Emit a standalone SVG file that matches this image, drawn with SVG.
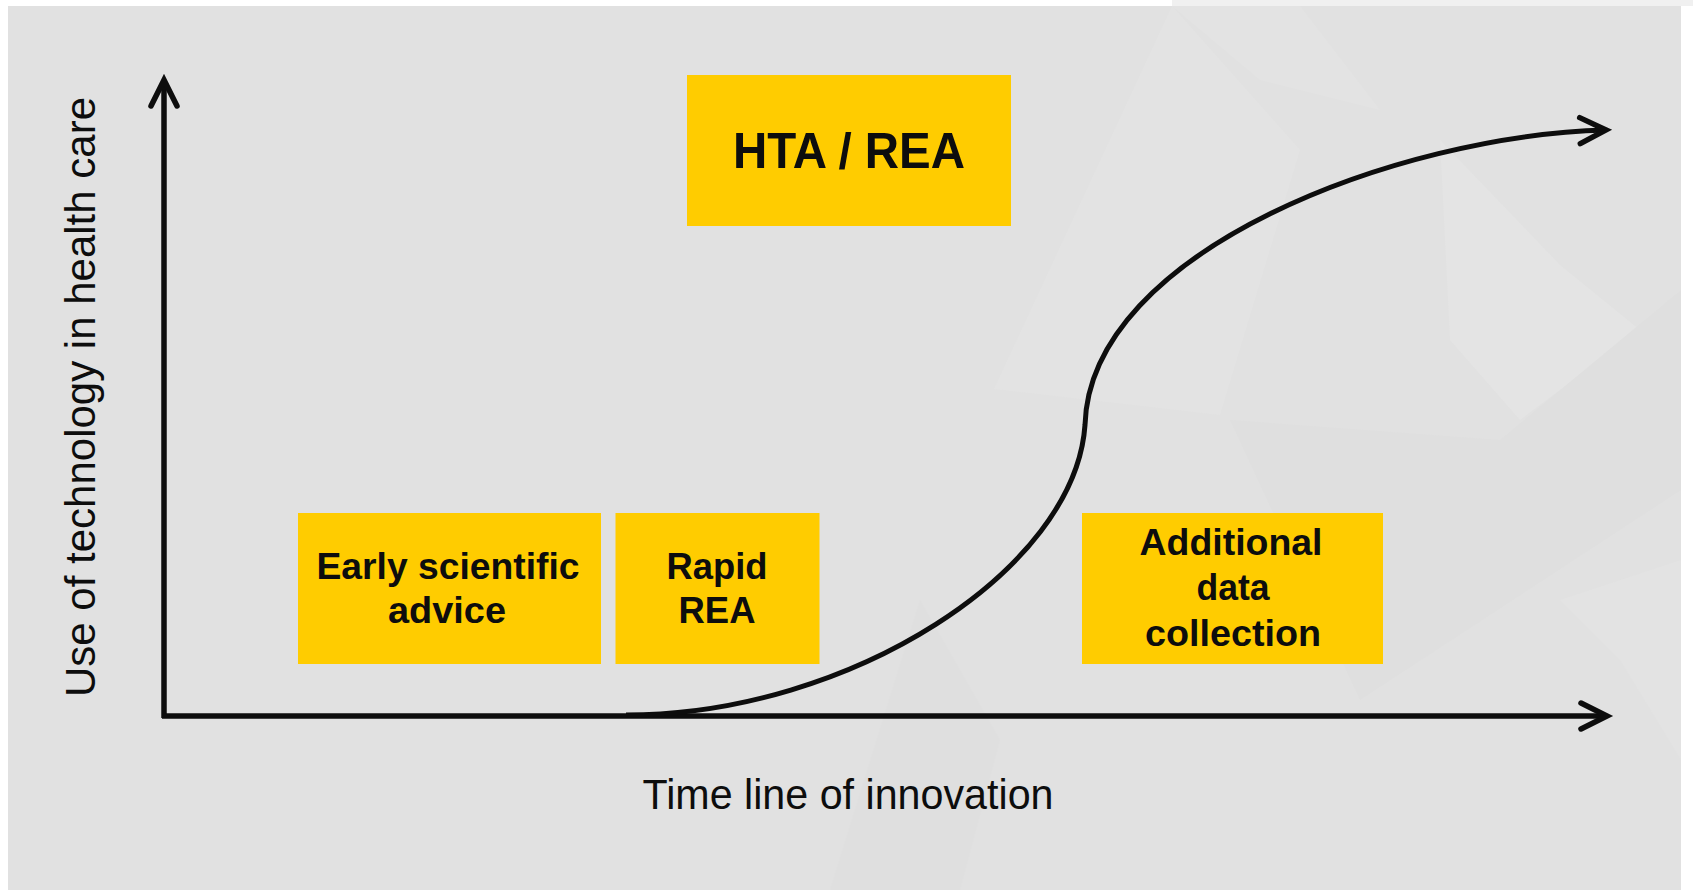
<svg xmlns="http://www.w3.org/2000/svg" width="1693" height="890" viewBox="0 0 1693 890">
  <style>
    .box { fill: #FFCC00; }
    .lbl { font-family: "Liberation Sans", Arial, sans-serif; font-weight: bold; fill: #0d0d0d; text-anchor: middle; }
    .axis-lbl { font-family: "Liberation Sans", Arial, sans-serif; fill: #0d0d0d; text-anchor: middle; }
    .line { fill: none; stroke: #0d0d0d; stroke-width: 5.5; }
    .curve { fill: none; stroke: #0d0d0d; stroke-width: 5; }
    .bgshape { stroke: none; }
  </style>
  <defs>
    <marker id="chev" markerUnits="userSpaceOnUse" viewBox="-32 -18 38 36" refX="0" refY="0" markerWidth="38" markerHeight="36" orient="auto" overflow="visible">
      <path d="M -26 -13 L 0 0 L -26 13" fill="none" stroke="#0d0d0d" stroke-width="5.5" stroke-linecap="round" stroke-linejoin="miter"/>
    </marker>
  </defs>

  <!-- background -->
  <rect x="0" y="0" width="1693" height="890" fill="#ffffff"/>
  <rect x="1172" y="0" width="521" height="6" fill="#f0f0f0"/>
  <rect x="8" y="6" width="1673" height="884" fill="#e1e1e1"/>
  <g id="background-shapes">
    <polygon class="bgshape" points="1172,6 1300,6 1380,110 1260,80" fill="#e3e3e3"/>
    <polygon class="bgshape" points="1172,6 994,389 1220,415 1300,150" fill="#e3e3e3"/>
    <polygon class="bgshape" points="1440,140 1560,265 1640,330 1520,420 1450,340" fill="#e4e4e4"/>
    <polygon class="bgshape" points="1230,420 1500,440 1681,290 1681,490 1360,700" fill="#dfdfdf"/>
    <polygon class="bgshape" points="1560,600 1681,560 1681,760 1620,660" fill="#e3e3e3"/>
    <polygon class="bgshape" points="830,890 920,600 1000,740 960,890" fill="#dfdfdf"/>
  </g>

  <!-- nodes -->
  <g id="node-hta">
    <rect class="box" x="687" y="75" width="324" height="151"/>
    <text class="lbl" x="849" y="168" font-size="50" textLength="232" lengthAdjust="spacingAndGlyphs">HTA / REA</text>
  </g>
  <g id="node-early">
    <rect class="box" x="298" y="513" width="303" height="151"/>
    <text class="lbl" x="448" y="579" font-size="37" textLength="263" lengthAdjust="spacingAndGlyphs">Early scientific</text>
    <text class="lbl" x="447" y="623" font-size="37" textLength="118" lengthAdjust="spacingAndGlyphs">advice</text>
  </g>
  <g id="node-rapid">
    <rect class="box" x="615.5" y="513" width="204" height="151"/>
    <text class="lbl" x="717" y="579" font-size="37" textLength="101" lengthAdjust="spacingAndGlyphs">Rapid</text>
    <text class="lbl" x="717" y="623" font-size="37" textLength="77" lengthAdjust="spacingAndGlyphs">REA</text>
  </g>
  <g id="node-additional">
    <rect class="box" x="1082" y="513" width="301" height="151"/>
    <text class="lbl" x="1231" y="555" font-size="36" textLength="183" lengthAdjust="spacingAndGlyphs">Additional</text>
    <text class="lbl" x="1233" y="600" font-size="36" textLength="73" lengthAdjust="spacingAndGlyphs">data</text>
    <text class="lbl" x="1233" y="646" font-size="36" textLength="176" lengthAdjust="spacingAndGlyphs">collection</text>
  </g>

  <!-- connectors / axes -->
  <g id="connectors">
    <line class="line" x1="164" y1="718" x2="164" y2="80" marker-end="url(#chev)"/>
    <line class="line" x1="162" y1="716" x2="1607" y2="716" marker-end="url(#chev)"/>
    <path class="curve" d="M 626 715 C 850 715, 1075 570, 1085 425 C 1090 250, 1400 135, 1606 130" marker-end="url(#chev)"/>
  </g>

  <!-- axis labels -->
  <g id="axis-labels">
    <text class="axis-lbl" x="848" y="809" font-size="42" textLength="411" lengthAdjust="spacingAndGlyphs">Time line of innovation</text>
    <text class="axis-lbl" transform="translate(95,397) rotate(-90)" x="0" y="0" font-size="42" textLength="600" lengthAdjust="spacingAndGlyphs">Use of technology in health care</text>
  </g>
</svg>
